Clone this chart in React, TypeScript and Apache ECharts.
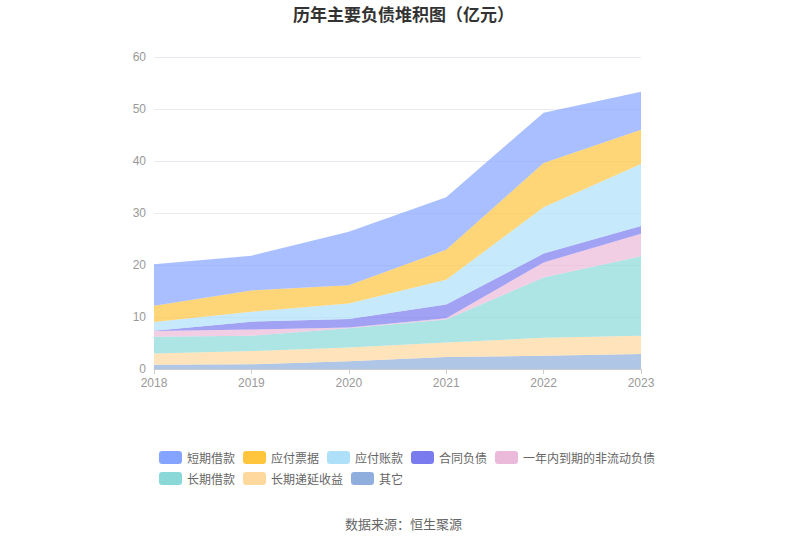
import React, { useEffect, useRef } from "react";
import * as echarts from "echarts";

const years = ["2018", "2019", "2020", "2021", "2022", "2023"];
const seriesNames = ["短期借款", "应付票据", "应付账款", "合同负债", "一年内到期的非流动负债", "长期借款", "长期递延收益", "其它"];
const colors = ["#85a4ff", "#ffc53d", "#aee0fa", "#7b7bf0", "#ebb9d9", "#8ad8d8", "#ffd89e", "#8faedd"];

const qita = [0.8, 0.9, 1.5, 2.3, 2.55, 2.9];
const changqiDiyan = [2.2, 2.55, 2.65, 2.8, 3.45, 3.5];
const changqiJiekuan = [3.2, 2.95, 3.7, 4.4, 11.6, 15.3];
const yinianNei = [1.1, 1.2, 0.15, 0.25, 2.9, 4.3];
const hetongFuzhai = [0.05, 1.5, 1.6, 2.65, 1.7, 1.5];
const yingfuZhangkuan = [1.7, 1.9, 3.0, 4.75, 8.9, 11.9];
const yingfuPiaoju = [3.1, 4.1, 3.5, 5.8, 8.5, 6.6];
const duanqiJiekuan = [8.0, 6.7, 10.3, 10.1, 9.7, 7.3];

const yTicks = [0, 10, 20, 30, 40, 50, 60];

export default function App() {
  const ref = useRef<HTMLDivElement>(null);
  useEffect(() => {
    if (!ref.current) return;
    const chart = echarts.init(ref.current, undefined, { renderer: "svg" });
    const dataMap: Record<string, number[]> = {
      "短期借款": duanqiJiekuan,
      "应付票据": yingfuPiaoju,
      "应付账款": yingfuZhangkuan,
      "合同负债": hetongFuzhai,
      "一年内到期的非流动负债": yinianNei,
      "长期借款": changqiJiekuan,
      "长期递延收益": changqiDiyan,
      "其它": qita,
    };
    const bottomUp = [...seriesNames].reverse();
    const series = bottomUp.map((name) => {
      const idx = seriesNames.indexOf(name);
      return {
        name,
        type: "line" as const,
        stack: "total",
        data: dataMap[name],
        symbol: "none",
        showSymbol: false,
        lineStyle: { width: 0 },
        itemStyle: { color: colors[idx] },
        areaStyle: { color: colors[idx], opacity: 0.7 },
      };
    });
    chart.setOption({
      animation: false,
      title: {
        text: "历年主要负债堆积图（亿元）",
        left: "center",
        top: 0,
        textStyle: { fontSize: 17, fontWeight: "bold", color: "#333", fontFamily: "Noto Sans CJK SC" },
      },
      grid: { left: 154, right: 166, top: 57, bottom: 177 },
      legend: {
        data: seriesNames.map((n, i) => ({ name: n, itemStyle: { color: colors[i] } })),
        left: 159,
        top: 451,
        width: 500,
        padding: 0,
        itemWidth: 23,
        itemHeight: 13,
        itemGap: 8,
        icon: "roundRect",
        textStyle: { fontSize: 12, color: "#666", fontFamily: "Noto Sans CJK SC" },
      },
      xAxis: {
        type: "category",
        data: years,
        boundaryGap: false,
        axisLine: { lineStyle: { color: "#ccc" } },
        axisTick: { show: true, lineStyle: { color: "#ccc" } },
        axisLabel: { color: "#999", fontSize: 12 },
      },
      yAxis: {
        type: "value",
        min: yTicks[0],
        max: yTicks[yTicks.length - 1],
        interval: 10,
        axisLine: { show: false },
        axisTick: { show: false },
        axisLabel: { color: "#999", fontSize: 12 },
        splitLine: { lineStyle: { color: "#eaeaf2" } },
      },
      graphic: [
        {
          type: "text",
          left: "center",
          top: 517,
          style: { text: "数据来源：恒生聚源", fill: "#666", fontSize: 13, fontFamily: "Noto Sans CJK SC" },
        },
      ],
      series,
    });
    return () => chart.dispose();
  }, []);
  return <div ref={ref} style={{ width: 807, height: 546, position: "absolute", left: 0, top: 0 }} />;
}
